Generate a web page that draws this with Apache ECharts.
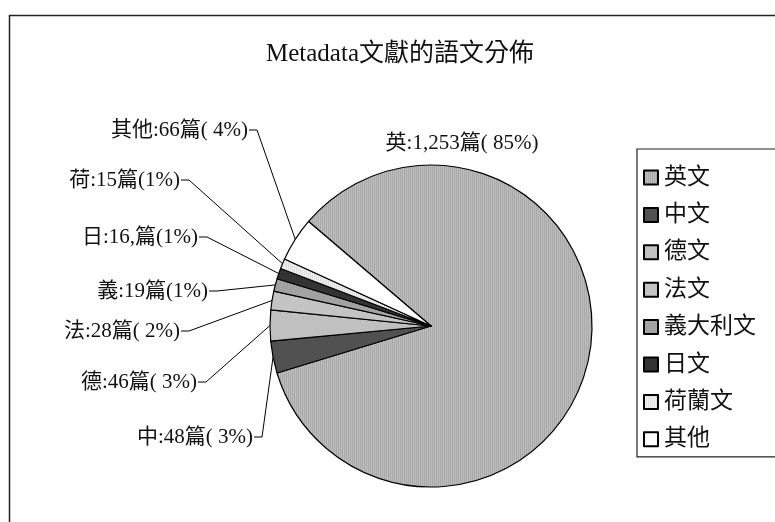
<!DOCTYPE html>
<html>
<head>
<meta charset="utf-8">
<script src="https://cdn.jsdelivr.net/npm/echarts@6/dist/echarts.min.js"></script>
<style>
html,body{margin:0;padding:0;background:#fff;}
#chart{width:775px;height:522px;}
</style>
</head>
<body>
<div id="chart"></div>
<script>
// ---- data ----
const titleText = 'Metadata文獻的語文分佈';
const categories = ['英文', '中文', '德文', '法文', '義大利文', '日文', '荷蘭文', '其他'];
const counts = [1253, 48, 46, 28, 19, 16, 15, 66];
const labelTexts = ['英:1,253篇( 85%)', '中:48篇( 3%)', '德:46篇( 3%)', '法:28篇( 2%)',
                    '義:19篇(1%)', '日:16,篇(1%)', '荷:15篇(1%)', '其他:66篇( 4%)'];

// ---- styles / layout (not data) ----
const sliceColors = ['#b2b2b2', '#515151', '#c0c0c0', '#c4c4c4', '#a2a2a2', '#333333', '#e6e6e6', '#ffffff'];
// label anchor: right edge x, middle y (index 0 is centered)
const labelAnchors = [[462, 143], [253, 437], [197, 382], [180, 331], [208, 291], [198, 237], [180, 180], [248, 130]];

function stripe(c1, c2) {
  const cv = document.createElement('canvas');
  cv.width = 2; cv.height = 2;
  const ctx = cv.getContext('2d');
  ctx.fillStyle = c1; ctx.fillRect(0, 0, 1, 2);
  ctx.fillStyle = c2; ctx.fillRect(1, 0, 1, 2);
  return { image: cv, repeat: 'repeat' };
}
const fills = sliceColors.slice();
fills[0] = stripe('#a9a9a9', '#bdbdbd');
fills[6] = stripe('#dedede', '#f0f0f0');

const FONT = '"Liberation Serif", "Noto Sans CJK TC", serif';

const chart = echarts.init(document.getElementById('chart'), null, { renderer: 'canvas' });
const option = {
  backgroundColor: '#fff',
  animation: false,
  title: {
    text: titleText,
    left: 395, top: 37, textAlign: 'center',
    textStyle: { fontFamily: FONT, fontSize: 25, fontWeight: 'normal', color: '#111' }
  },
  graphic: [{
    type: 'rect', left: 7, top: 13, silent: true,
    shape: { width: 820, height: 600 },
    style: { fill: 'none', stroke: '#222', lineWidth: 1.5 }
  }],
  legend: {
    orient: 'vertical',
    left: 637, top: 149,
    padding: [17, 30, 6, 6],
    backgroundColor: '#fff',
    borderColor: '#222', borderWidth: 1.2,
    itemWidth: 14, itemHeight: 14, itemGap: 14.4,
    icon: 'rect',
    textStyle: { fontFamily: FONT, fontSize: 23, lineHeight: 23, color: '#111', padding: [0, 0, 0, 1] },
    data: categories
  },
  series: [{
    type: 'pie',
    center: [431, 326],
    radius: 161,
    startAngle: 139.5,
    clockwise: true,
    avoidLabelOverlap: false,
    itemStyle: { borderColor: '#000', borderWidth: 1.2 },
    label: {
      show: true,
      position: 'outside',
      fontFamily: FONT, fontSize: 21, color: '#111',
      formatter: p => labelTexts[p.dataIndex]
    },
    labelLine: { show: true, length: 10, length2: 10, lineStyle: { color: '#000', width: 1 } },
    labelLayout: function (p) {
      const i = p.dataIndex;
      const a = labelAnchors[i];
      if (i === 0) {
        return { x: a[0], y: a[1], align: 'center', verticalAlign: 'middle' };
      }
      const res = { x: a[0], y: a[1], align: 'right', verticalAlign: 'middle' };
      if (p.labelLinePoints && p.labelLinePoints.length) {
        const start = p.labelLinePoints[0];
        res.labelLinePoints = [start, [a[0] + 9, a[1]], [a[0] + 1, a[1]]];
      }
      return res;
    },
    data: categories.map((c, i) => ({
      name: c,
      value: counts[i],
      itemStyle: { color: fills[i] },
      labelLine: i === 0 ? { show: false } : undefined
    }))
  }]
};
chart.setOption(option);
</script>
</body>
</html>
